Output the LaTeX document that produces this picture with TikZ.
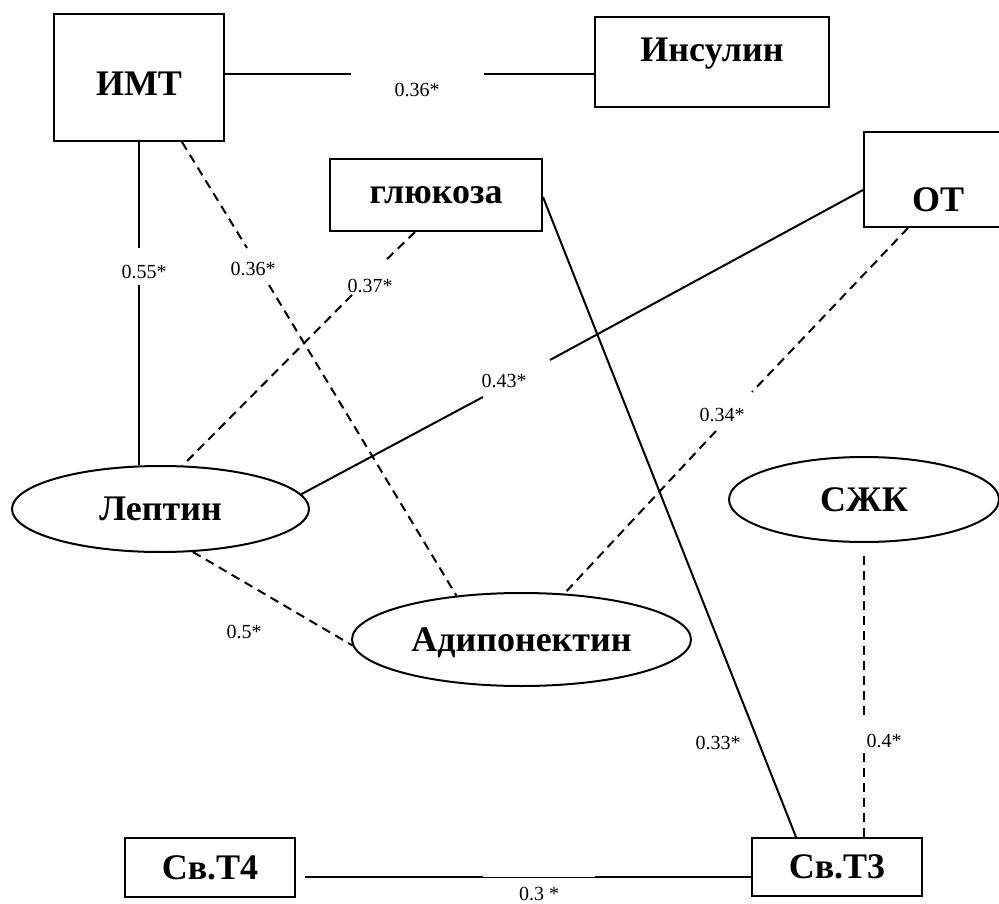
\documentclass[tikz,border=0pt]{standalone}
\usepackage{fontspec}
\setmainfont{Liberation Serif}
\usetikzlibrary{shapes.geometric,calc}
\begin{document}
\begin{tikzpicture}[x=1pt,y=-1pt,
  bigfont/.style={font=\bfseries\fontsize{36}{40}\selectfont},
  boxnode/.style={draw,line width=2pt,rectangle,inner sep=0pt,text depth=0pt,bigfont},
  ellnode/.style={draw,line width=2pt,ellipse,inner sep=0pt,text depth=0pt,bigfont},
  ttl/.style={bigfont,inner sep=0pt,anchor=base},
  corr/.style={font=\fontsize{20}{22}\selectfont,inner sep=0pt,text depth=0pt},
  sline/.style={line width=2pt},
  thinline/.style={line width=0.7pt},
  dline/.style={line width=2pt,dash pattern=on 9pt off 6pt},
]
\useasboundingbox (0,0) rectangle (999,904);
\clip (0,0) rectangle (999,904);

% nodes
\node[boxnode,minimum width=170pt,minimum height=127pt] (imt) at (139,77.5) {};
\node[ttl] (imtT) at (139,96) {ИМТ};
\node[boxnode,minimum width=234pt,minimum height=90pt] (ins) at (712,62) {};
\node[ttl] (insT) at (712,62) {Инсулин};
\node[boxnode,minimum width=212pt,minimum height=72pt] (glu) at (436,195) {глюкоза};
\node[boxnode,minimum width=148pt,minimum height=95pt] (ot) at (938,179.5) {};
\node[ttl] (otT) at (938,212) {ОТ};
\node[ellnode,minimum width=297pt,minimum height=86pt] (lep) at (160.5,509) {Лептин};
\node[ellnode,minimum width=270pt,minimum height=85pt] (szhk) at (864,499.5) {СЖК};
\node[ellnode,minimum width=339pt,minimum height=93pt] (adip) at (521.5,639.5) {Адипонектин};
\node[boxnode,minimum width=170pt,minimum height=59pt] (t4) at (210,867.5) {Св.Т4};
\node[boxnode,minimum width=170pt,minimum height=58pt] (t3) at (837,867) {Св.Т3};

% 1 ИМТ - Инсулин
\coordinate (g1a) at (351,74); \coordinate (g1b) at (484,74);
\draw[sline] ([yshift=3.5pt]imt.east) -- (g1a);
\draw[sline] (g1b) -- ([yshift=-12pt]ins.west);
\node[corr] (c1) at (417,90) {0.36*};

% 2 ИМТ - Лептин
\coordinate (g2a) at (139,248); \coordinate (g2b) at (139,285);
\draw[sline] (imt.south) -- (g2a);
\draw[sline] (g2b) -- (lep.north -| imt.south);
\node[corr] (c2) at (144,272) {0.55*};

% 3 ИМТ - Адипонектин
\coordinate (g3a) at (247,248); \coordinate (g3b) at (269,285);
\draw[dline] ([xshift=43pt]imt.south) -- (g3a);
\draw[dline] (g3b) -- (adip.146);
\node[corr] (c3) at (253,269) {0.36*};

% 4 глюкоза - Лептин
\coordinate (g4a) at (383,263); \coordinate (g4b) at (352,295);
\draw[dline] ([xshift=-21pt]glu.south) -- (g4a);
\draw[dline] (g4b) -- (lep.63);
\node[corr] (c4) at (370,286) {0.37*};

% 5 ОТ - Лептин
\coordinate (g5a) at (550,360); \coordinate (g5b) at (483,397);
\draw[sline] ([yshift=-10.5pt]ot.west) -- (g5a);
\draw[sline] (g5b) -- (lep.6);
\node[corr] (c5) at (504,381) {0.43*};

% 6 ОТ - Адипонектин
\coordinate (g6a) at (752,392); \coordinate (g6b) at (716,431);
\draw[dline] ([xshift=-30pt]ot.south) -- (g6a);
\draw[dline] (g6b) -- (adip.47);
\node[corr] (c6) at (722,415) {0.34*};

% 7 глюкоза - Св.Т3
\draw[sline] ([yshift=-2pt]glu.east) -- ([xshift=-41pt]t3.north);
\node[corr] (c7) at (718,743) {0.33*};

% 8 Лептин - Адипонектин
\draw[dline] (lep.-53) -- (adip.182);
\node[corr] (c8) at (244,632) {0.5*};

% 9 СЖК - Св.Т3
\coordinate (g9a) at (864,715); \coordinate (g9b) at (864,753);
\draw[dline] ([yshift=-13pt]szhk.south) -- (g9a);
\draw[dline] (g9b) -- ([xshift=27pt]t3.north);
\node[corr] (c9) at (884,741) {0.4*};

% 10 Св.Т4 - Св.Т3
\coordinate (g10a) at (483,877); \coordinate (g10b) at (595,877);
\draw[sline] ([xshift=9pt,yshift=-9.5pt]t4.east) -- (g10a);
\draw[thinline] (g10a) -- (g10b);
\draw[sline] (g10b) -- ([yshift=-10pt]t3.west);
\node[corr] (c10) at (539,894) {0.3 *};
\end{tikzpicture}
\end{document}
